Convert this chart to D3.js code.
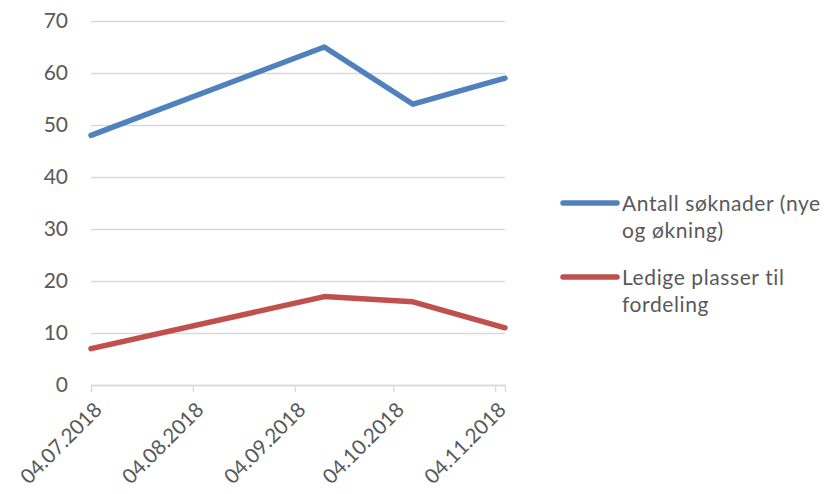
<!DOCTYPE html>
<html>
<head>
<meta charset="utf-8">
<script src="https://cdn.jsdelivr.net/npm/d3@7"></script>
<style>
  body { margin: 0; background: #fff; }
  text { font-family: Lato, "Open Sans", sans-serif; fill: #595959; }
</style>
</head>
<body>
<svg id="chart" width="827" height="494"></svg>
<script>
// data
const dates = ["04.07.2018", "13.09.2018", "10.10.2018", "07.11.2018"]
const soknader = [48, 65, 54, 59]
const ledige = [7, 17, 16, 11]
const seriesNames = [["Antall søknader (nye", "og økning)"], ["Ledige plasser til", "fordeling"]]
const xTicks = ["04.07.2018", "04.08.2018", "04.09.2018", "04.10.2018", "04.11.2018"]
const yTicks = [0, 10, 20, 30, 40, 50, 60, 70]

const parse = d3.timeParse("%d.%m.%Y")

const svg = d3.select("#chart")
const margin = { top: 21, left: 91, right: 322, bottom: 109 }
const width = +svg.attr("width") - margin.left - margin.right
const height = +svg.attr("height") - margin.top - margin.bottom

const colors = ["#4F81BD", "#C0504D"]

const x = d3.scaleTime()
    .domain([parse(dates[0]), parse(dates[dates.length - 1])])
    .range([0, width])
const y = d3.scaleLinear().domain([0, 70]).range([height, 0])

const g = svg.append("g").attr("transform", "translate(" + margin.left + "," + margin.top + ")")

// gridlines
g.append("g")
    .call(d3.axisLeft(y).tickValues(yTicks).tickSize(-width).tickFormat(""))
    .call(a => a.select(".domain").remove())
    .call(a => a.selectAll("line").attr("stroke", "#D9D9D9").attr("stroke-width", 1.3))

// y labels
g.append("g").selectAll(".yLabel")
    .data(yTicks)
    .enter().append("text")
    .attr("x", -23)
    .attr("y", d => y(d))
    .attr("dy", "0.35em")
    .style("text-anchor", "end")
    .style("font-size", "21px")
    .text(d => d)

// x axis
const xAxis = g.append("g")
    .attr("transform", "translate(0," + height + ")")
    .call(d3.axisBottom(x).tickValues(xTicks.map(parse)).tickSize(7).tickFormat(""))
xAxis.select(".domain").attr("stroke", "#D9D9D9").attr("stroke-width", 1.3)
xAxis.selectAll("line").attr("stroke", "#D9D9D9").attr("stroke-width", 1.3)

g.append("g").selectAll(".xLabel")
    .data(xTicks)
    .enter().append("text")
    .attr("transform", d => "translate(" + (x(parse(d)) + 7) + "," + (height + 21) + ") rotate(-45)")
    .attr("dy", "0.35em")
    .style("text-anchor", "end")
    .style("font-size", "20.5px")
    .text(d => d)

// lines
const line = d3.line()
    .x((d, i) => x(parse(dates[i])))
    .y(d => y(d))

const series = [soknader, ledige]
g.selectAll(".series")
    .data(series)
    .enter().append("path")
    .attr("d", d => line(d))
    .attr("fill", "none")
    .attr("stroke", (d, i) => colors[i])
    .attr("stroke-width", 5.5)
    .attr("stroke-linecap", "round")
    .attr("stroke-linejoin", "round")

// legend
const legend = svg.append("g").selectAll(".legend")
    .data(seriesNames)
    .enter().append("g")
    .attr("transform", (d, i) => "translate(563," + (203 + i * 74) + ")")

legend.append("line")
    .attr("x1", 0).attr("x2", 54)
    .attr("stroke", (d, i) => colors[i])
    .attr("stroke-width", 5.5)
    .attr("stroke-linecap", "round")

legend.append("text")
    .attr("x", 59)
    .attr("y", 8)
    .style("font-size", "21px")
    .style("letter-spacing", "0.6px")
    .selectAll("tspan")
    .data(d => d)
    .enter().append("tspan")
    .attr("x", 59)
    .attr("dy", (d, i) => i ? 27 : 0)
    .text(d => d)
</script>
</body>
</html>
